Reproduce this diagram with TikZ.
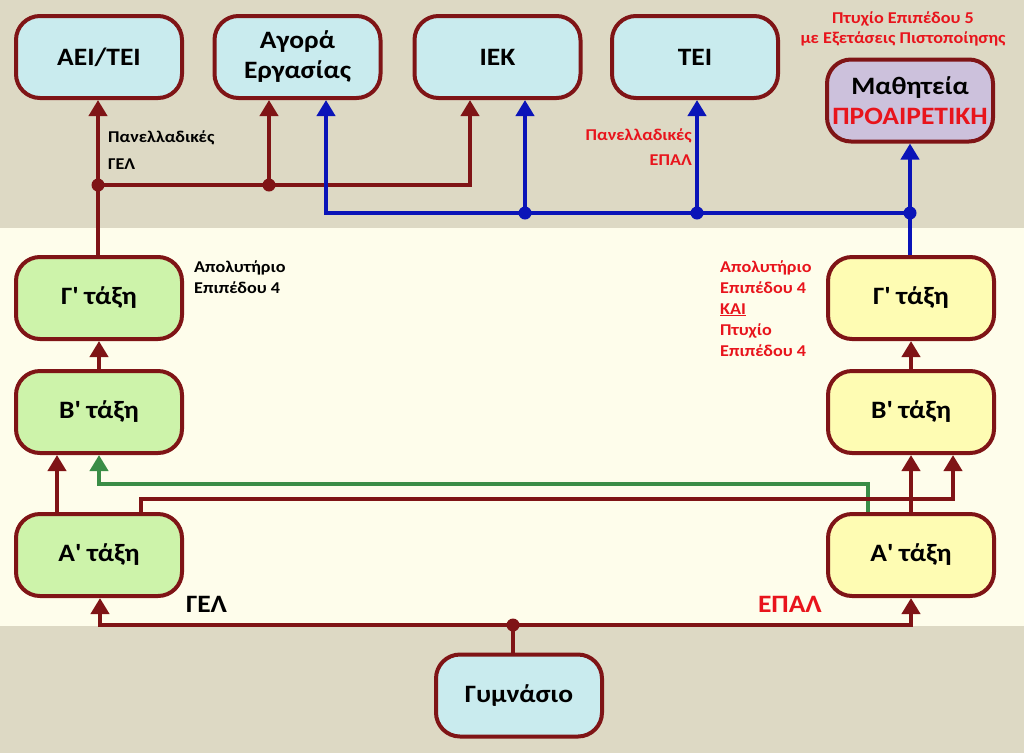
\documentclass[tikz,border=0pt]{standalone}
\usepackage{fontspec}
\setmainfont{Carlito}[FakeStretch=1.1]
\usetikzlibrary{arrows.meta}
\definecolor{dred}{HTML}{7F1416}
\definecolor{dblue}{HTML}{0A14B8}
\definecolor{dgreen}{HTML}{3A8D46}
\definecolor{bgtop}{HTML}{DDD9C4}
\definecolor{bgmid}{HTML}{FEFDEB}
\definecolor{fcyan}{HTML}{C9EBEE}
\definecolor{fgreen}{HTML}{CDF3AA}
\definecolor{fyellow}{HTML}{FEFCB3}
\definecolor{fpurple}{HTML}{CCC1DC}
\definecolor{tred}{HTML}{E8141C}
\newcommand{\apo}{\textquotesingle}
\tikzset{
  box/.style={draw=dred, line width=4pt, rounded corners=24pt, minimum width=166pt,
    minimum height=82pt, align=center, inner sep=0pt,
    font=\bfseries\fontsize{25}{30}\selectfont},
  lbl/.style={inner sep=0pt, font=\bfseries\fontsize{16.5}{21}\selectfont},
  rl/.style={draw=dred, line width=4pt},
  bl/.style={draw=dblue, line width=4pt},
  gl/.style={draw=dgreen, line width=4pt},
  tip/.style={-{Triangle[width=18pt,length=16pt]}},
}
\begin{document}
\begin{tikzpicture}[x=1pt,y=-1pt]
\useasboundingbox (0,0) rectangle (1024,753);
\fill[bgtop] (0,0) rectangle (1024,228);
\fill[bgmid] (0,228) rectangle (1024,626);
\fill[bgtop] (0,626) rectangle (1024,753);

% top boxes
\node[box, fill=fcyan] (aei) at (99,57) {ΑΕΙ/ΤΕΙ};
\node[box, fill=fcyan] (agora) at (297.5,57) {Αγορά\\Εργασίας};
\node[box, fill=fcyan] (iek) at (497.5,57) {ΙΕΚ};
\node[box, fill=fcyan] (tei) at (695,57) {ΤΕΙ};
\node[box, fill=fpurple] (math) at (910,100.5) {Μαθητεία\\\textcolor{tred}{ΠΡΟΑΙΡΕΤΙΚΗ}};

% GEL column
\node[box, fill=fgreen] (gc) at (99,298) {Γ\apo{} τάξη};
\node[box, fill=fgreen] (gb) at (99,412) {Β\apo{} τάξη};
\node[box, fill=fgreen] (ga) at (99,555) {Α\apo{} τάξη};
% EPAL column
\node[box, fill=fyellow] (ec) at (911,298) {Γ\apo{} τάξη};
\node[box, fill=fyellow] (eb) at (911,412) {Β\apo{} τάξη};
\node[box, fill=fyellow] (ea) at (911,555) {Α\apo{} τάξη};

\node[box, fill=fcyan] (gym) at (519,695.5) {Γυμνάσιο};

% labels (anchor base = baseline of last line)
\node[lbl, anchor=base west, align=left] (lpg) at (108,169) {Πανελλαδικές\\[6pt]ΓΕΛ};
\node[lbl, anchor=base east, align=right, text=tred] (lpe) at (692,165) {Πανελλαδικές\\[4pt]ΕΠΑΛ};
\node[lbl, anchor=base, align=center, text=tred, font=\bfseries\fontsize{16.5}{19.5}\selectfont] (lpt) at (903,43) {Πτυχίο Επιπέδου 5\\με Εξετάσεις Πιστοποίησης};
\node[lbl, anchor=base west, align=left] (lag) at (194,293) {Απολυτήριο\\Επιπέδου 4};
\node[lbl, anchor=base west, align=left, text=tred] (lae) at (720,356) {Απολυτήριο\\Επιπέδου 4\\\underline{ΚΑΙ}\\Πτυχίο\\Επιπέδου 4};
\node[anchor=base west, inner sep=0pt, font=\bfseries\fontsize{25}{28}\selectfont] (tgel) at (186,612) {ΓΕΛ};
\node[anchor=base east, inner sep=0pt, text=tred, font=\bfseries\fontsize{25}{28}\selectfont] (tepal) at (822,612) {ΕΠΑΛ};

% coordinates
\coordinate (j1) at (98,185);
\coordinate (j2) at (269,185);
\coordinate (b1) at (326,213);
\coordinate (b2) at (525,213);
\coordinate (b3) at (697,213);
\coordinate (b4) at (910,213);
\coordinate (g0) at (513,625);

% red GEL connections
\draw[rl, tip] (gc.north -| j1) -- (aei.south -| j1);
\draw[rl, tip] (j1) -- (j2) -- (agora.south -| j2);
\draw[rl, tip] (j2) -| ([xshift=-27.5pt]iek.south);
\fill[dred] (j1) circle (6.5);
\fill[dred] (j2) circle (6.5);

% blue EPAL connections
\draw[bl, tip] (ec.north -| b4) -- (math.south -| b4);
\draw[bl, tip] (b4) -- (b1) -- ([xshift=28.5pt]agora.south);
\draw[bl, tip] (b2) -- ([xshift=27.5pt]iek.south);
\draw[bl, tip] (b3) -- (tei.south -| b3);
\fill[dblue] (b2) circle (6.5);
\fill[dblue] (b3) circle (6.5);
\fill[dblue] (b4) circle (6.5);

% class progressions
\draw[rl, tip] (gb.north) -- (gc.south);
\draw[rl, tip] (eb.north) -- (ec.south);
\draw[rl, tip] ([xshift=-42pt]ga.north) -- ([xshift=-42pt]gb.south);
\draw[rl, tip] (ea.north) -- (eb.south);
\draw[gl, tip] ([xshift=-43pt]ea.north) |- (gb.south |- 0,484) -- (gb.south);
\draw[rl, tip] ([xshift=42pt]ga.north) |- ([xshift=42pt]eb.south |- 0,499) -- ([xshift=42pt]eb.south);

% gymnasio
\draw[rl] (gym.north -| g0) -- (g0);
\draw[rl, tip] (g0) -| ([xshift=1pt]ga.south);
\draw[rl, tip] (g0) -| (ea.south);
\fill[dred] (g0) circle (6.5);
\end{tikzpicture}
\end{document}
